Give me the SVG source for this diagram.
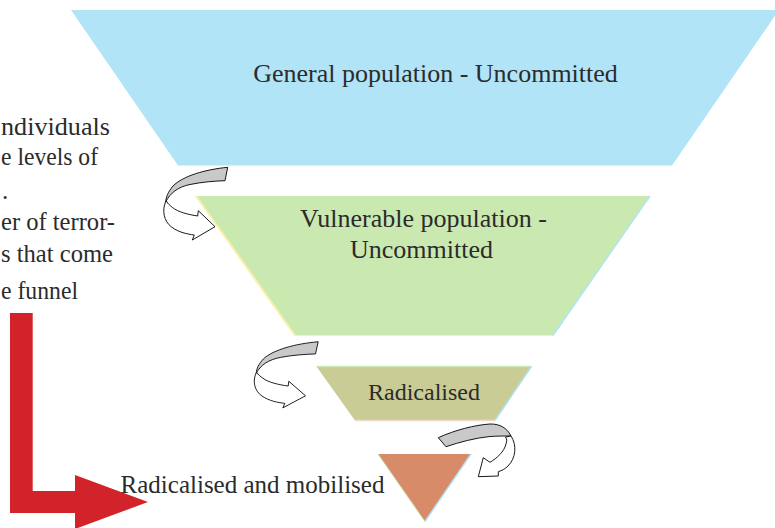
<svg xmlns="http://www.w3.org/2000/svg" width="775" height="528" viewBox="0 0 775 528">
  <style>
    text { font-family: "Liberation Serif", "DejaVu Serif", serif; fill: #2b2b2b; }
    .c { text-anchor: middle; }
    .side { font-size: 25px; }
    .back { fill: #c9c9c9; stroke: #000; stroke-width: 0.9; stroke-linejoin: round; }
    .front { fill: #ffffff; stroke: #000; stroke-width: 0.9; stroke-linejoin: miter; }
  </style>
  <defs>
    <g id="curl">
      <path class="back" d="M227.7,167.3 C205,169.5 183,176 173,186 C168,192 166,197 165.7,202 C170,193 178,187 190,184.5 C202,182 215,181 225,180.7 Z"/>
      <path class="front" d="M165.7,201.5 C162,210 163.5,221 171.5,227 C179,232.5 187,234 194.3,235 L192.3,240 L215,226.7 L198.3,210.7 L197.7,216 C188,214.5 178,212 172.5,207.5 C169.5,205 167.5,203.5 166.8,201.5 Z"/>
    </g>
  </defs>
  <rect width="775" height="528" fill="#ffffff"/>

  <g id="side-text">
    <text class="side" x="1" y="135" textLength="109" lengthAdjust="spacingAndGlyphs">ndividuals</text>
    <text class="side" x="1" y="165" textLength="97" lengthAdjust="spacingAndGlyphs">e levels of</text>
    <text class="side" x="2" y="199">.</text>
    <text class="side" x="1" y="230" textLength="114" lengthAdjust="spacingAndGlyphs">er of terror-</text>
    <text class="side" x="1" y="262" textLength="112" lengthAdjust="spacingAndGlyphs">s that come</text>
    <text class="side" x="1" y="299" textLength="77" lengthAdjust="spacingAndGlyphs">e funnel</text>
  </g>

  <g id="level-general">
    <polygon points="71,10 779,10 672,165.5 178,165.5" fill="#b2e4f7"/>
    <text class="c" x="435.5" y="82" font-size="26">General population - Uncommitted</text>
  </g>

  <g id="level-vulnerable">
    <polygon points="196,196 650,196 553,335.5 295,335.5" fill="#cae9b1"/>
    <line x1="196" y1="196" x2="295" y2="335.5" stroke="#fbf0a8" stroke-width="2"/>
    <line x1="650" y1="196" x2="553" y2="335.5" stroke="#b2e4f7" stroke-width="1.5"/>
    <text class="c" x="423.5" y="227" font-size="26">Vulnerable population -</text>
    <text class="c" x="421.5" y="258" font-size="26">Uncommitted</text>
  </g>

  <g id="level-radicalised">
    <polygon points="316.5,366.5 531.5,366.5 495,420.5 355,420.5" fill="#c9cc95"/>
    <line x1="316.5" y1="366.5" x2="531.5" y2="366.5" stroke="#cae9b1" stroke-width="1.5"/>
    <line x1="531.5" y1="366.5" x2="495" y2="420.5" stroke="#b2e4f7" stroke-width="1.5"/>
    <line x1="355" y1="420.5" x2="495" y2="420.5" stroke="#f2d9cf" stroke-width="1.5"/>
    <text class="c" x="424" y="400" font-size="24">Radicalised</text>
  </g>

  <g id="level-mobilised">
    <polygon points="378,454 471,454 425,521.5" fill="#d88b69"/>
    <line x1="471" y1="454" x2="425" y2="521.5" stroke="#b2e4f7" stroke-width="1.5"/>
    <line x1="378" y1="454" x2="425" y2="521.5" stroke="#c9d9a8" stroke-width="1"/>
  </g>

  <g id="connectors">
    <path id="red-arrow" d="M10,313 L32.7,313 L32.7,491 L75,491 L75,475 L148,502 L75,529 L75,513 L10,513 Z" fill="#d2232a"/>
    <use href="#curl"/>
    <use href="#curl" transform="translate(90.5,189.5) scale(1,0.91)"/>
    <g id="curl-3">
      <path class="back" d="M438.3,437.7 C455,430 475,425 490,424 C500,423.8 507,428 511,436 C505,436 498,436 490,436.5 C475,438 460,442 446,446.7 Z"/>
      <path class="front" d="M511,436 C517,445 516,458 508,466 C505,469 502,470.5 498.3,471.7 L498.3,476 L478.3,476.7 L483.3,457.7 L490,462.3 C497,458 504,452 506,444 C507,441 507,439 505.5,437 Z"/>
    </g>
  </g>

  <g id="label-mobilised">
    <text class="c" x="252.5" y="493" font-size="25">Radicalised and mobilised</text>
  </g>
</svg>
